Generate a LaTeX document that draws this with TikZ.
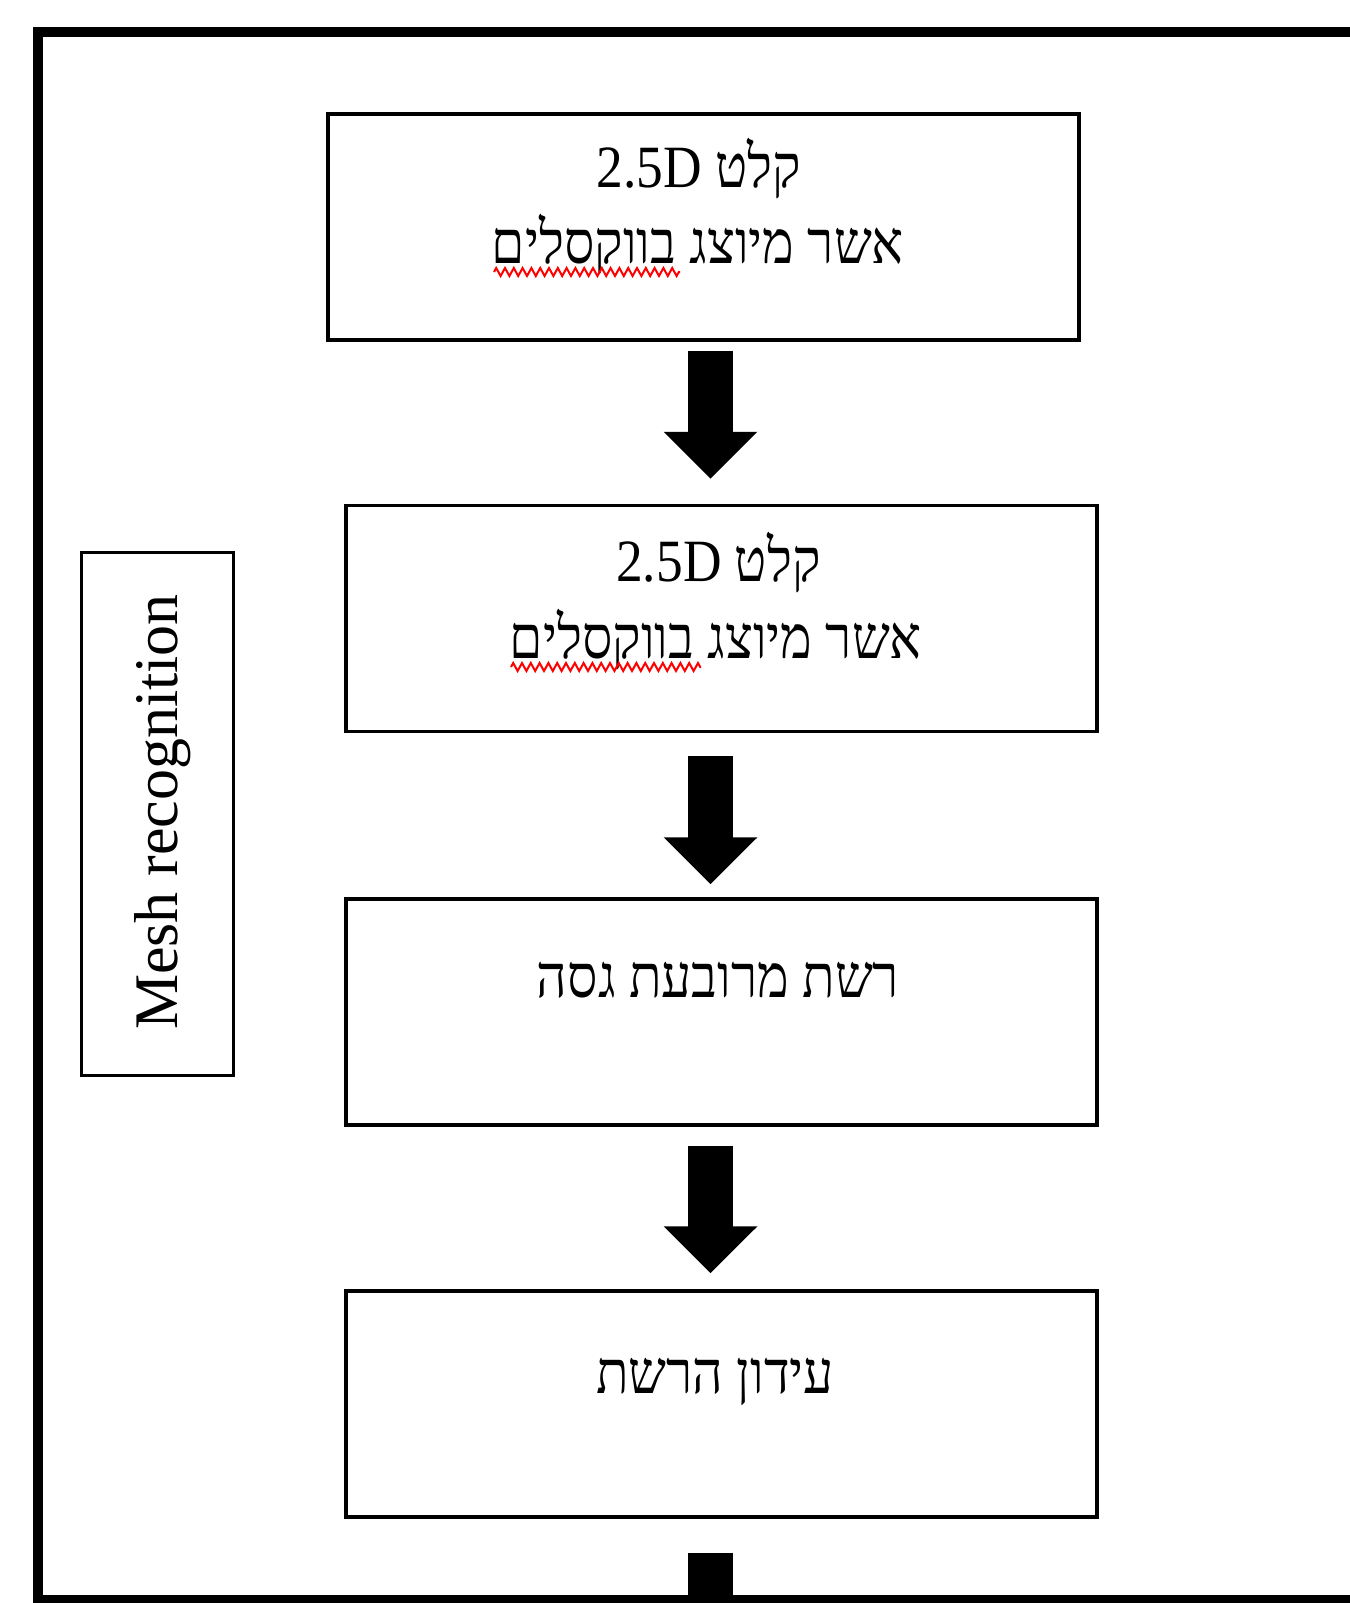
\documentclass[tikz,border=0pt]{standalone}
\usepackage{fontspec}
\setmainfont{Liberation Serif}
\newfontfamily\hebfont[Script=Hebrew,FakeStretch=0.89]{Liberation Serif}
\TeXXeTstate=1
\usetikzlibrary{arrows.meta,decorations.pathmorphing}

\begin{document}
\begin{tikzpicture}[x=0.5pt,y=-0.5pt,
    box/.style={draw,line width=1.7pt,minimum width=375.5pt,minimum height=113pt,inner sep=0pt},
    sidebox/.style={draw,line width=1.5pt,minimum width=76pt,minimum height=261.5pt,inner sep=0pt},
    heb/.style={anchor=base,inner sep=0pt,font=\hebfont\fontsize{30}{36}\selectfont},
    flow/.style={line width=22.5pt,-{Triangle[width=45.5pt,length=23.5pt]}},
    spell/.style={red,line width=1pt,decorate,decoration={zigzag,segment length=4.4pt,amplitude=2pt}}]
  \useasboundingbox (0,0) rectangle (1350,1603);
  \clip (0,0) rectangle (1350,1603);
  \draw[line width=5pt] (1360,32) -- (38,32) -- (38,1600) -- (1360,1600);
  \coordinate (fb) at (38,1600);
  \coordinate (ax) at (710.5,0);

  \node[box] (b1) at (703.5,227) {};
  \node[box] (b2) at (721.5,618.5) {};
  \node[box] (b3) at (721.5,1012) {};
  \node[box] (b4) at (721.5,1404) {};
  \node[sidebox] (side) at (157,813.5) {};

  \node[heb] (b1a) at (699,187) {\beginR קלט \beginL 2.5D\endL\endR};
  \node[heb] (b1b) at (698,263) {\beginR אשר מיוצג בווקסלים\endR};
  \node[heb] (b2a) at (718.5,581) {\beginR קלט \beginL 2.5D\endL\endR};
  \node[heb] (b2b) at (716,658) {\beginR אשר מיוצג בווקסלים\endR};
  \node[heb] (b3a) at (718,997) {\beginR רשת מרובעת גסה\endR};
  \node[heb] (b4a) at (715,1393) {\beginR עידון הרשת\endR};
  \node[rotate=90,anchor=base,inner sep=0pt,font=\fontsize{31}{37}\selectfont] (mesh) at (177,812) {Mesh recognition};

  \draw[spell] (494,272) -- (680,272);
  \draw[spell] (511,667) -- (701,667);

  \draw[flow,shorten <=4.5pt,shorten >=12.5pt] (ax |- b1.south) -- (ax |- b2.north);
  \draw[flow,shorten <=11.5pt,shorten >=6.5pt] (ax |- b2.south) -- (ax |- b3.north);
  \draw[flow,shorten <=9.5pt,shorten >=8pt] (ax |- b3.south) -- (ax |- b4.north);
  \draw[line width=22.5pt,shorten <=17pt,shorten >=-5pt] (ax |- b4.south) -- (ax |- fb);
\end{tikzpicture}
\end{document}
